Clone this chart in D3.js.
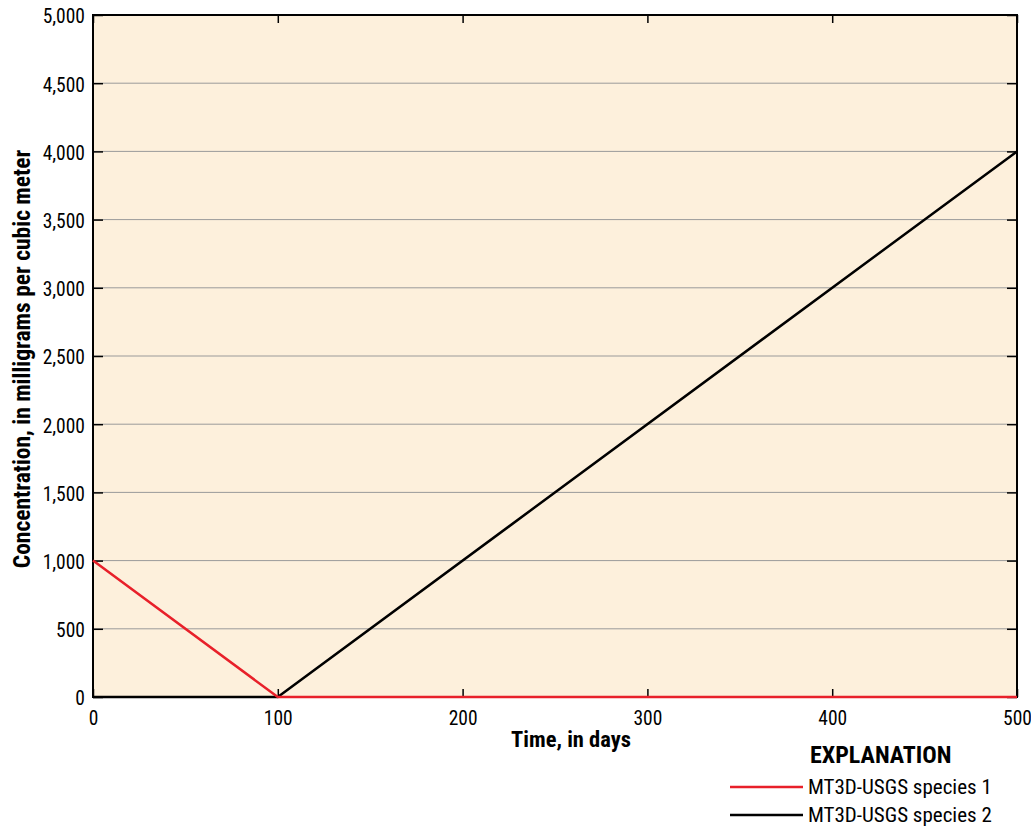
<!DOCTYPE html>
<html>
<head>
<meta charset="utf-8">
<script src="https://cdn.jsdelivr.net/npm/d3@7"></script>
<style>
  body { margin: 0; background: #fff; }
  svg text { font-family: "Liberation Sans Narrow", "Roboto Condensed", "Arial Narrow", sans-serif; fill: #000; }
</style>
</head>
<body>
<svg id="chart" width="1031" height="826"></svg>
<script>
// Concentration time series (days, mg/m^3)
const days = [0, 100, 500];
const species1 = [1000, 0, 0];
const species2 = [0, 0, 4000];
const seriesNames = ["MT3D-USGS species 1", "MT3D-USGS species 2"];
const seriesColors = ["#e8202a", "#000000"];
const xTicks = [0, 100, 200, 300, 400, 500];
const yTicks = [0, 500, 1000, 1500, 2000, 2500, 3000, 3500, 4000, 4500, 5000];

const svg = d3.select("#chart");
const plotL = 93, plotR = 1017, plotT = 15, plotB = 697;

const x = d3.scaleLinear().domain([0, 500]).range([plotL, plotR]);
const y = d3.scaleLinear().domain([0, 5000]).range([plotB, plotT]);

// plot background
svg.append("rect")
  .attr("x", plotL).attr("y", plotT)
  .attr("width", plotR - plotL).attr("height", plotB - plotT)
  .attr("fill", "#fdf0dc");

// horizontal grid lines
svg.append("g").selectAll("line")
  .data(yTicks.filter(d => d > 0 && d < 5000))
  .join("line")
  .attr("x1", plotL).attr("x2", plotR)
  .attr("y1", d => y(d)).attr("y2", d => y(d))
  .attr("stroke", "#9a9a9a").attr("stroke-width", 1);

// axes with inward ticks
const fmt = d3.format(",");
const yAxis = svg.append("g").attr("transform", `translate(${plotL},0)`)
  .call(d3.axisLeft(y).tickValues(yTicks).tickFormat(fmt).tickSize(-10).tickPadding(8));
const yAxisR = svg.append("g").attr("transform", `translate(${plotR},0)`)
  .call(d3.axisRight(y).tickValues(yTicks).tickFormat("").tickSize(-10));
const xAxis = svg.append("g").attr("transform", `translate(0,${plotB})`)
  .call(d3.axisBottom(x).tickValues(xTicks).tickSize(-8).tickPadding(0));
const xAxisT = svg.append("g").attr("transform", `translate(0,${plotT})`)
  .call(d3.axisTop(x).tickValues(xTicks).tickFormat("").tickSize(-8));

[yAxis, yAxisR, xAxis, xAxisT].forEach(g => {
  g.select(".domain").remove();
  g.selectAll(".tick line").attr("stroke", "#000").attr("stroke-width", 1.5);
  g.selectAll("text").style("font-size", "19.5px");
});
yAxis.selectAll("text").attr("dy", "0.4em");
xAxis.selectAll("text").attr("y", 28).attr("dy", null);

// frame
svg.append("rect")
  .attr("x", plotL).attr("y", plotT)
  .attr("width", plotR - plotL).attr("height", plotB - plotT)
  .attr("fill", "none").attr("stroke", "#000").attr("stroke-width", 2);

// series lines
const line = d3.line().x(d => x(d[0])).y(d => y(d[1]));
const s2 = days.map((d, i) => [d, species2[i]]);
const s1 = days.map((d, i) => [d, species1[i]]);
svg.append("path").datum(s2).attr("d", line)
  .attr("fill", "none").attr("stroke", seriesColors[1]).attr("stroke-width", 2.5);
svg.append("path").datum(s1).attr("d", line)
  .attr("fill", "none").attr("stroke", seriesColors[0]).attr("stroke-width", 2.5);

// axis titles
svg.append("text")
  .attr("x", 571).attr("y", 747)
  .attr("text-anchor", "middle")
  .style("font-size", "22.5px").style("font-weight", "bold")
  .text("Time, in days");

svg.append("text")
  .attr("transform", `translate(30,359) rotate(-90)`)
  .attr("text-anchor", "middle")
  .style("font-size", "23.5px").style("font-weight", "bold")
  .text("Concentration, in milligrams per cubic meter");

// legend
svg.append("text")
  .attr("x", 810).attr("y", 763)
  .style("font-size", "24px").style("font-weight", "bold")
  .text("EXPLANATION");

const legend = svg.append("g");
seriesNames.forEach((name, i) => {
  const ly = 787 + i * 28;
  legend.append("line")
    .attr("x1", 730).attr("x2", 803)
    .attr("y1", ly).attr("y2", ly)
    .attr("stroke", seriesColors[i]).attr("stroke-width", 2.5);
  legend.append("text")
    .attr("x", 808).attr("y", ly + 6.5)
    .style("font-size", "21px")
    .text(name);
});
</script>
</body>
</html>
